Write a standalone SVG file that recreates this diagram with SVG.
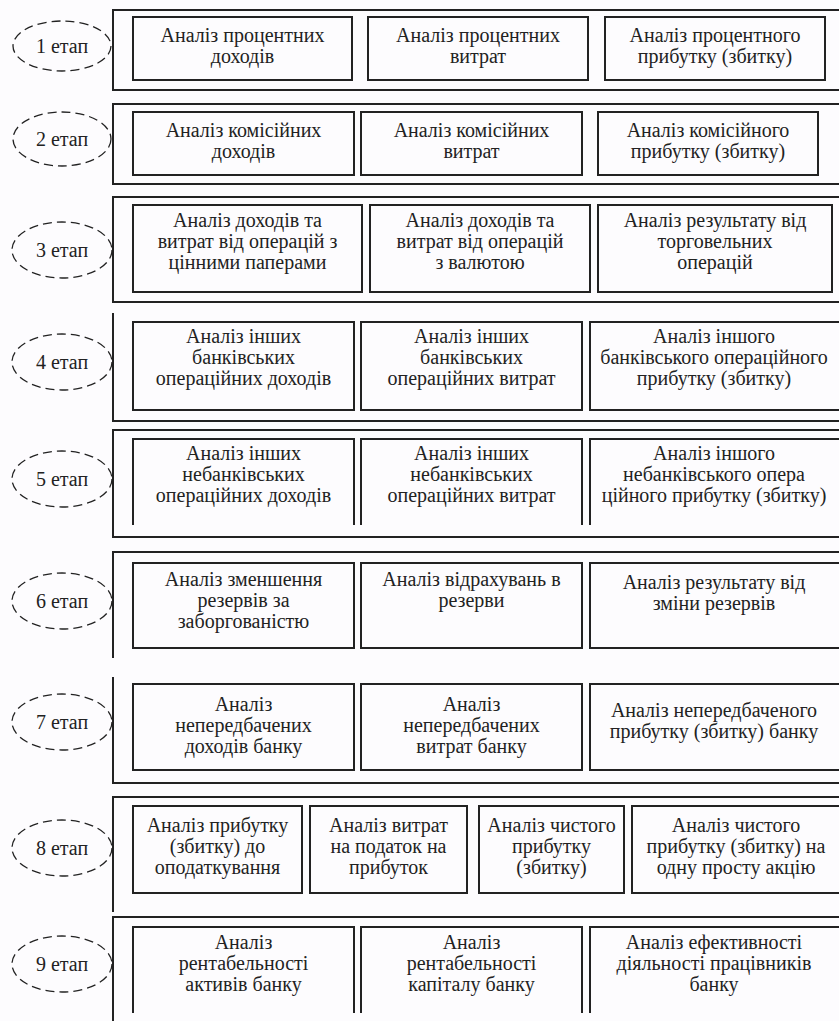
<svg xmlns="http://www.w3.org/2000/svg" width="839" height="1021" viewBox="0 0 839 1021">
<style>
.bg{fill:#fdfcfe}
.frame{fill:none;stroke:#222;stroke-width:2}
.box{fill:none;stroke:#222;stroke-width:2}
.stage{fill:none;stroke:#222;stroke-width:1.3;stroke-dasharray:9,5}
text{font-family:"Liberation Serif","DejaVu Serif","Times New Roman",serif;font-size:20px;fill:#222;text-anchor:middle}
</style>
<rect class="bg" x="0" y="0" width="839" height="1021"/>
<g id="connectors"></g>

<g id="row1">
<path class="frame" d="M845,10 H113 V90 H845"/>
<ellipse class="stage" cx="62" cy="46" rx="49" ry="25"/>
<text x="62" y="53">1 етап</text>
<g id="n1a"><rect class="box" x="133" y="17" width="219" height="63"/><text x="242.5" y="42">Аналіз процентних</text><text x="242.5" y="63">доходів</text></g>
<g id="n1b"><rect class="box" x="368" y="17" width="220" height="63"/><text x="478" y="42">Аналіз процентних</text><text x="478" y="63">витрат</text></g>
<g id="n1c"><rect class="box" x="605" y="17" width="220" height="63"/><text x="715" y="42">Аналіз процентного</text><text x="715" y="63">прибутку (збитку)</text></g>
</g>

<g id="row2">
<path class="frame" d="M845,104 H113 V184 H845"/>
<ellipse class="stage" cx="62" cy="139" rx="49" ry="27"/>
<text x="62" y="146">2 етап</text>
<g id="n2a"><rect class="box" x="133" y="112" width="221" height="63"/><text x="243.5" y="137">Аналіз комісійних</text><text x="243.5" y="158">доходів</text></g>
<g id="n2b"><rect class="box" x="361" y="112" width="221" height="63"/><text x="471.5" y="137">Аналіз комісійних</text><text x="471.5" y="158">витрат</text></g>
<g id="n2c"><rect class="box" x="598" y="112" width="220" height="63"/><text x="708" y="137">Аналіз комісійного</text><text x="708" y="158">прибутку (збитку)</text></g>
</g>

<g id="row3">
<path class="frame" d="M845,197 H113 V302 H845"/>
<ellipse class="stage" cx="62" cy="250" rx="50" ry="28"/>
<text x="62" y="257">3 етап</text>
<g id="n3a"><rect class="box" x="133" y="205" width="229" height="87"/><text x="247.5" y="227">Аналіз доходів та</text><text x="247.5" y="248">витрат від операцій з</text><text x="247.5" y="269">цінними паперами</text></g>
<g id="n3b"><rect class="box" x="370" y="205" width="220" height="87"/><text x="480" y="227">Аналіз доходів та</text><text x="480" y="248">витрат від операцій</text><text x="480" y="269">з валютою</text></g>
<g id="n3c"><rect class="box" x="598" y="205" width="234" height="87"/><text x="715" y="227">Аналіз результату від</text><text x="715" y="248">торговельних</text><text x="715" y="269">операцій</text></g>
</g>

<g id="row4">
<path class="frame" d="M113,313 V421 H845"/>
<ellipse class="stage" cx="62" cy="362" rx="50" ry="28"/>
<text x="62" y="369">4 етап</text>
<g id="n4a"><rect class="box" x="133" y="322" width="221" height="88"/><text x="243.5" y="343">Аналіз інших</text><text x="243.5" y="364">банківських</text><text x="243.5" y="385">операційних доходів</text></g>
<g id="n4b"><rect class="box" x="361" y="322" width="221" height="88"/><text x="471.5" y="343">Аналіз інших</text><text x="471.5" y="364">банківських</text><text x="471.5" y="385">операційних витрат</text></g>
<g id="n4c"><rect class="box" x="590" y="322" width="252" height="88"/><text x="714" y="343">Аналіз іншого</text><text x="714" y="364">банківського операційного</text><text x="714" y="385">прибутку (збитку)</text></g>
</g>

<g id="row5">
<path class="frame" d="M845,430 H113 V537 H845"/>
<ellipse class="stage" cx="62" cy="479" rx="50" ry="28"/>
<text x="62" y="486">5 етап</text>
<g id="n5a"><path class="box" d="M133,525 V439 H354 V525"/><text x="243.5" y="460">Аналіз інших</text><text x="243.5" y="481">небанківських</text><text x="243.5" y="502">операційних доходів</text></g>
<g id="n5b"><path class="box" d="M361,525 V439 H582 V525"/><text x="471.5" y="460">Аналіз інших</text><text x="471.5" y="481">небанківських</text><text x="471.5" y="502">операційних витрат</text></g>
<g id="n5c"><path class="box" d="M590,525 V439 H845"/><text x="714" y="460">Аналіз іншого</text><text x="714" y="481">небанківського опера</text><text x="714" y="502">ційного прибутку (збитку)</text></g>
</g>

<g id="row6">
<path class="frame" d="M845,552 H113 V658"/>
<ellipse class="stage" cx="62" cy="601" rx="50" ry="28"/>
<text x="62" y="608">6 етап</text>
<g id="n6a"><rect class="box" x="133" y="563" width="221" height="85"/><text x="243.5" y="586">Аналіз зменшення</text><text x="243.5" y="607">резервів за</text><text x="243.5" y="628">заборгованістю</text></g>
<g id="n6b"><rect class="box" x="361" y="563" width="221" height="85"/><text x="471.5" y="586">Аналіз відрахувань в</text><text x="471.5" y="607">резерви</text></g>
<g id="n6c"><rect class="box" x="590" y="563" width="252" height="85"/><text x="714" y="589">Аналіз результату від</text><text x="714" y="610">зміни резервів</text></g>
</g>

<g id="row7">
<path class="frame" d="M113,677 V783 H845"/>
<ellipse class="stage" cx="62" cy="722" rx="50" ry="28"/>
<text x="62" y="729">7 етап</text>
<g id="n7a"><rect class="box" x="133" y="684" width="221" height="86"/><text x="243.5" y="711">Аналіз</text><text x="243.5" y="732">непередбачених</text><text x="243.5" y="753">доходів банку</text></g>
<g id="n7b"><rect class="box" x="361" y="684" width="221" height="86"/><text x="471.5" y="711">Аналіз</text><text x="471.5" y="732">непередбачених</text><text x="471.5" y="753">витрат банку</text></g>
<g id="n7c"><rect class="box" x="590" y="684" width="252" height="86"/><text x="714" y="717">Аналіз непередбаченого</text><text x="714" y="738">прибутку (збитку) банку</text></g>
</g>

<g id="row8">
<path class="frame" d="M845,797 H113 V912"/>
<ellipse class="stage" cx="62" cy="848" rx="50" ry="28"/>
<text x="62" y="855">8 етап</text>
<g id="n8a"><rect class="box" x="133" y="806" width="169" height="87"/><text x="217.5" y="832">Аналіз прибутку</text><text x="217.5" y="853">(збитку) до</text><text x="217.5" y="874">оподаткування</text></g>
<g id="n8b"><rect class="box" x="310" y="806" width="157" height="87"/><text x="388.5" y="832">Аналіз витрат</text><text x="388.5" y="853">на податок на</text><text x="388.5" y="874">прибуток</text></g>
<g id="n8c"><rect class="box" x="479" y="806" width="145" height="87"/><text x="551.5" y="832">Аналіз чистого</text><text x="551.5" y="853">прибутку</text><text x="551.5" y="874">(збитку)</text></g>
<g id="n8d"><rect class="box" x="632" y="806" width="210" height="87"/><text x="736" y="832">Аналіз чистого</text><text x="736" y="853">прибутку (збитку) на</text><text x="736" y="874">одну просту акцію</text></g>
</g>

<g id="row9">
<path class="frame" d="M845,917 H113 V1021"/>
<ellipse class="stage" cx="62" cy="964" rx="50" ry="28"/>
<text x="62" y="971">9 етап</text>
<g id="n9a"><path class="box" d="M133,1013 V927 H354 V1013"/><text x="243.5" y="949">Аналіз</text><text x="243.5" y="970">рентабельності</text><text x="243.5" y="991">активів банку</text></g>
<g id="n9b"><path class="box" d="M361,1013 V927 H582 V1013"/><text x="471.5" y="949">Аналіз</text><text x="471.5" y="970">рентабельності</text><text x="471.5" y="991">капіталу банку</text></g>
<g id="n9c"><path class="box" d="M590,1013 V927 H845"/><text x="714" y="949">Аналіз ефективності</text><text x="714" y="970">діяльності працівників</text><text x="714" y="991">банку</text></g>
</g>
</svg>
